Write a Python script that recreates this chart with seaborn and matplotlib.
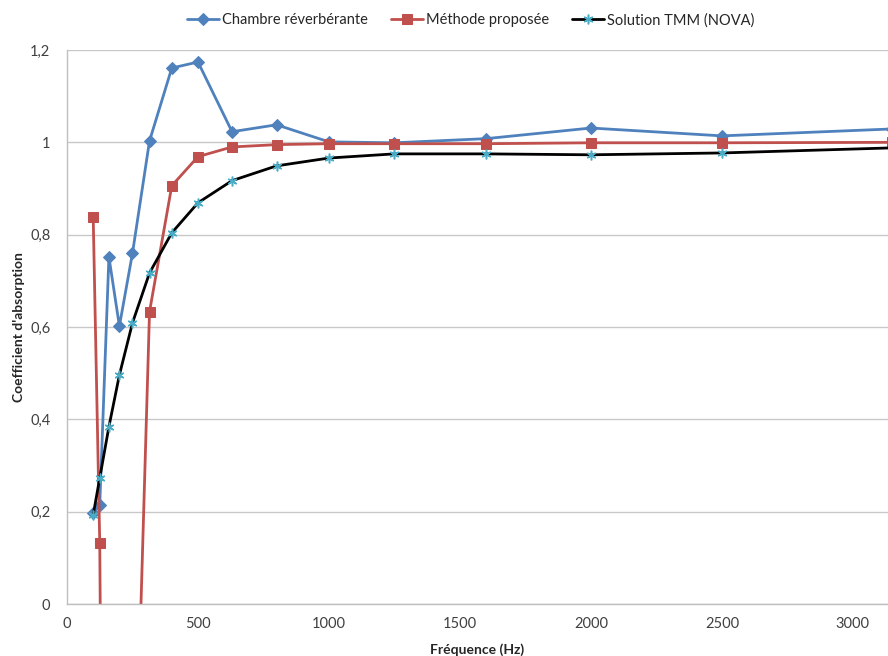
import matplotlib.pyplot as plt
import matplotlib.ticker as ticker
import seaborn as sns
import pandas as pd

# Third-octave band centre frequencies (Hz)
frequences = [100, 125, 160, 200, 250, 315, 400, 500, 630, 800,
              1000, 1250, 1600, 2000, 2500, 3150]

chambre = [0.197, 0.214, 0.752, 0.602, 0.760, 1.003, 1.161, 1.174, 1.023, 1.038,
           1.001, 0.999, 1.008, 1.031, 1.014, 1.029]
methode = [0.839, 0.132, -2.5, -2.0, -0.63, 0.633, 0.906, 0.969, 0.990, 0.995,
           0.997, 0.997, 0.997, 0.999, 0.999, 1.000]
tmm = [0.193, 0.273, 0.384, 0.496, 0.609, 0.717, 0.804, 0.869, 0.917, 0.949,
       0.966, 0.975, 0.975, 0.973, 0.977, 0.988]

noms = ["Chambre réverbérante", "Méthode proposée", "Solution TMM (NOVA)"]
y_ticks = [0, 0.2, 0.4, 0.6, 0.8, 1.0, 1.2]
x_ticks = [0, 500, 1000, 1500, 2000, 2500, 3000]

sns.set_style("white")
plt.rcParams["font.family"] = ["Lato", "DejaVu Sans"]

fig = plt.figure(figsize=(8.88, 6.56), dpi=100)
ax = fig.add_axes([67 / 888, 1 - 604 / 656, 1 - 67 / 888, 554 / 656])

df = pd.DataFrame({"f": frequences, "a": chambre, "b": methode, "c": tmm})

sns.lineplot(data=df, x="f", y="a", ax=ax, color="#4F81BD", lw=2,
             marker="D", markersize=6, markeredgecolor="#4F81BD",
             label=noms[0])
sns.lineplot(data=df, x="f", y="b", ax=ax, color="#C0504D", lw=2,
             marker="s", markersize=7.5, markeredgecolor="#C0504D",
             label=noms[1])
sns.lineplot(data=df, x="f", y="c", ax=ax, color="black", lw=2,
             marker=(6, 2, 0), markersize=7, markeredgecolor="#4BACC6",
             markerfacecolor="#4BACC6", markeredgewidth=1.1,
             label=noms[2])

ax.set_xlim(0, 3134)
ax.set_ylim(0, 1.2)
ax.set_xticks(x_ticks)
ax.set_yticks(y_ticks)
ax.yaxis.set_major_formatter(ticker.FuncFormatter(
    lambda v, p: ("%g" % round(v, 1)).replace(".", ",")))
ax.grid(axis="y", color="#C8C8C8", lw=1)
ax.set_axisbelow(True)

for s in ["top", "right"]:
    ax.spines[s].set_visible(False)
for s in ["left", "bottom"]:
    ax.spines[s].set_color("#BFBFBF")
    ax.spines[s].set_linewidth(1)
ax.tick_params(axis="both", length=4, color="#BFBFBF", labelsize=10.5,
               labelcolor="#404040", direction="out")
ax.tick_params(axis="y", pad=8)
ax.tick_params(axis="x", pad=5)

ax.set_xlabel("Fréquence (Hz)", fontsize=10, fontweight="bold", labelpad=9)
ax.set_ylabel("Coefficient d'absorption", fontsize=10, fontweight="bold",
              labelpad=4)

ax.legend_.remove()
h, l = ax.get_legend_handles_labels()
fig.legend(h, l, loc="upper center", bbox_to_anchor=(0.53, 1.0), ncol=3,
           frameon=False, fontsize=10.5, handlelength=2.2, handletextpad=0.2,
           columnspacing=1.6)

plt.savefig("out.png", dpi=100)
